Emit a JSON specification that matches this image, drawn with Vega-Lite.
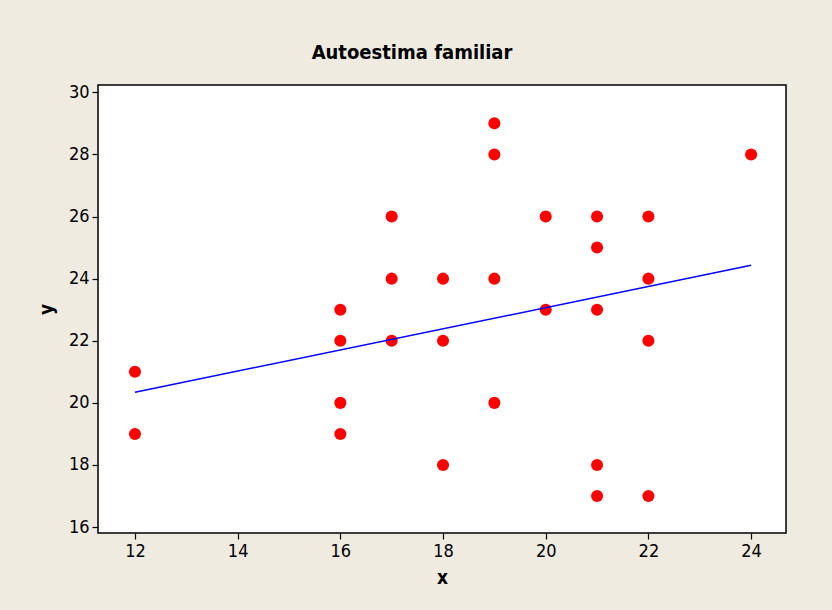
{
  "$schema": "https://vega.github.io/schema/vega-lite/v6.json",
  "autosize": {"type": "none"},
  "width": 688,
  "height": 448,
  "padding": {"left": 98, "top": 85, "right": 46, "bottom": 77},
  "background": "#EFEBE0",
  "title": {
    "text": "Autoestima familiar",
    "font": "DejaVu Sans Condensed",
    "fontSize": 20,
    "fontWeight": "bold",
    "color": "#000000",
    "anchor": "middle",
    "offset": 20,
    "dx": -30
  },
  "config": {
    "view": {"stroke": "#000000", "strokeWidth": 1.5, "fill": "#FFFFFF"},
    "axis": {
      "grid": false,
      "domain": false,
      "tickColor": "#000000",
      "tickSize": 6,
      "tickWidth": 1.2,
      "labelFont": "DejaVu Sans Condensed",
      "labelFontSize": 18,
      "labelColor": "#000000",
      "labelPadding": 3,
      "titleFont": "DejaVu Sans Condensed",
      "titleFontSize": 19,
      "titleFontWeight": "bold",
      "titleColor": "#000000"
    }
  },
  "layer": [
    {
      "data": {"values": [
        {"x": 12, "y": 21}, {"x": 12, "y": 19},
        {"x": 16, "y": 23}, {"x": 16, "y": 22}, {"x": 16, "y": 20}, {"x": 16, "y": 19},
        {"x": 17, "y": 26}, {"x": 17, "y": 24}, {"x": 17, "y": 22},
        {"x": 18, "y": 24}, {"x": 18, "y": 22}, {"x": 18, "y": 18},
        {"x": 19, "y": 29}, {"x": 19, "y": 28}, {"x": 19, "y": 24}, {"x": 19, "y": 20},
        {"x": 20, "y": 26}, {"x": 20, "y": 23},
        {"x": 21, "y": 26}, {"x": 21, "y": 25}, {"x": 21, "y": 23}, {"x": 21, "y": 18}, {"x": 21, "y": 17},
        {"x": 22, "y": 26}, {"x": 22, "y": 24}, {"x": 22, "y": 22}, {"x": 22, "y": 17},
        {"x": 24, "y": 28}
      ]},
      "mark": {"type": "point", "shape": "circle", "filled": true, "color": "#FF0000", "opacity": 1, "size": 145},
      "encoding": {
        "x": {"field": "x", "type": "quantitative", "scale": {"domain": [11.28, 24.68], "nice": false, "zero": false},
              "axis": {"values": [12, 14, 16, 18, 20, 22, 24], "title": "x", "titlePadding": 8}},
        "y": {"field": "y", "type": "quantitative", "scale": {"domain": [15.81, 30.235], "nice": false, "zero": false},
              "axis": {"values": [16, 18, 20, 22, 24, 26, 28, 30], "title": "y", "titlePadding": 12}}
      }
    },
    {
      "data": {"values": [{"x": 12, "y": 20.34}, {"x": 24, "y": 24.43}]},
      "mark": {"type": "line", "color": "#0000FF", "strokeWidth": 1.5},
      "encoding": {
        "x": {"field": "x", "type": "quantitative"},
        "y": {"field": "y", "type": "quantitative"}
      }
    }
  ]
}
